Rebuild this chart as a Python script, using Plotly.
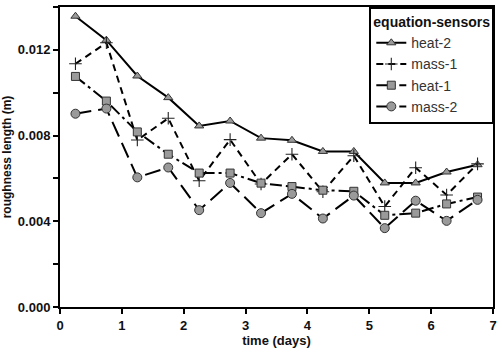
import plotly.graph_objects as go

days = [0.25, 0.75, 1.25, 1.75, 2.25, 2.75, 3.25, 3.75, 4.25, 4.75, 5.25, 5.75, 6.25, 6.75]
heat2 = [0.01357, 0.01245, 0.01078, 0.00977, 0.00845, 0.00868, 0.00788, 0.00778, 0.00726, 0.00726, 0.00579, 0.00579, 0.00630, 0.00664]
mass1 = [0.01135, 0.01233, 0.00779, 0.00881, 0.00589, 0.00781, 0.00574, 0.00713, 0.00538, 0.00706, 0.00469, 0.00650, 0.00523, 0.00668]
heat1 = [0.01076, 0.00961, 0.00817, 0.00713, 0.00625, 0.00625, 0.00578, 0.00562, 0.00545, 0.00540, 0.00428, 0.00438, 0.00481, 0.00513]
mass2 = [0.00902, 0.00926, 0.00605, 0.00651, 0.00452, 0.00579, 0.00438, 0.00528, 0.00413, 0.00520, 0.00368, 0.00496, 0.00402, 0.00500]

series = [
    ("heat-2", heat2, "solid", "triangle-up", 8),
    ("mass-1", mass1, "7px,5px", "cross-thin", 9),
    ("heat-1", heat1, "12px,4px,3px,4px", "square", 8),
    ("mass-2", mass2, "16px,7px", "circle", 9),
]

fig = go.Figure()
for name, vals, dash, sym, size in series:
    if sym == "cross-thin":
        marker = dict(symbol=sym, size=size, color="#222", line=dict(color="#222", width=1.1))
    else:
        marker = dict(symbol=sym, size=size, color="#9a9a9a", line=dict(color="#333", width=1))
    fig.add_trace(go.Scatter(x=days, y=vals, name=name, mode="lines+markers",
                             line=dict(color="black", width=2, dash=dash),
                             marker=marker))

font_family = "Liberation Sans, Arial, sans-serif"
fig.update_layout(
    width=502, height=352,
    margin=dict(l=59, r=6, t=5, b=45),
    paper_bgcolor="white", plot_bgcolor="white",
    font=dict(family=font_family, color="#111"),
    showlegend=True,
    legend=dict(
        title=dict(text="<b>equation-sensors</b>", font=dict(size=14, color="#111")),
        x=1.003, y=1, xanchor="right", yanchor="top",
        bgcolor="white", bordercolor="black", borderwidth=2,
        font=dict(size=14, color="#333"),
        tracegroupgap=0,
    ),
    xaxis=dict(
        range=[0, 7], dtick=1, tick0=0,
        showgrid=False, zeroline=False,
        showline=True, linecolor="black", linewidth=2, mirror=True,
        ticks="outside", ticklen=5, tickwidth=2, tickcolor="black",
        tickfont=dict(size=13, family=font_family, color="#111", weight="bold"),
        title=dict(text="<b>time (days)</b>", font=dict(size=13, color="#111"), standoff=4),
    ),
    yaxis=dict(
        range=[0, 0.014], dtick=0.004, tick0=0, tickformat=".3f",
        showgrid=False, zeroline=False,
        showline=True, linecolor="black", linewidth=2, mirror=True,
        ticks="outside", ticklen=5, tickwidth=2, tickcolor="black",
        minor=dict(dtick=0.002, ticks="outside", ticklen=5, tickwidth=2, tickcolor="black", showgrid=False),
        tickfont=dict(size=13, family=font_family, color="#111", weight="bold"),
        title=dict(text="<b>roughness length (m)</b>", font=dict(size=12, color="#111"), standoff=4),
    ),
)

fig.write_html("out.html")
